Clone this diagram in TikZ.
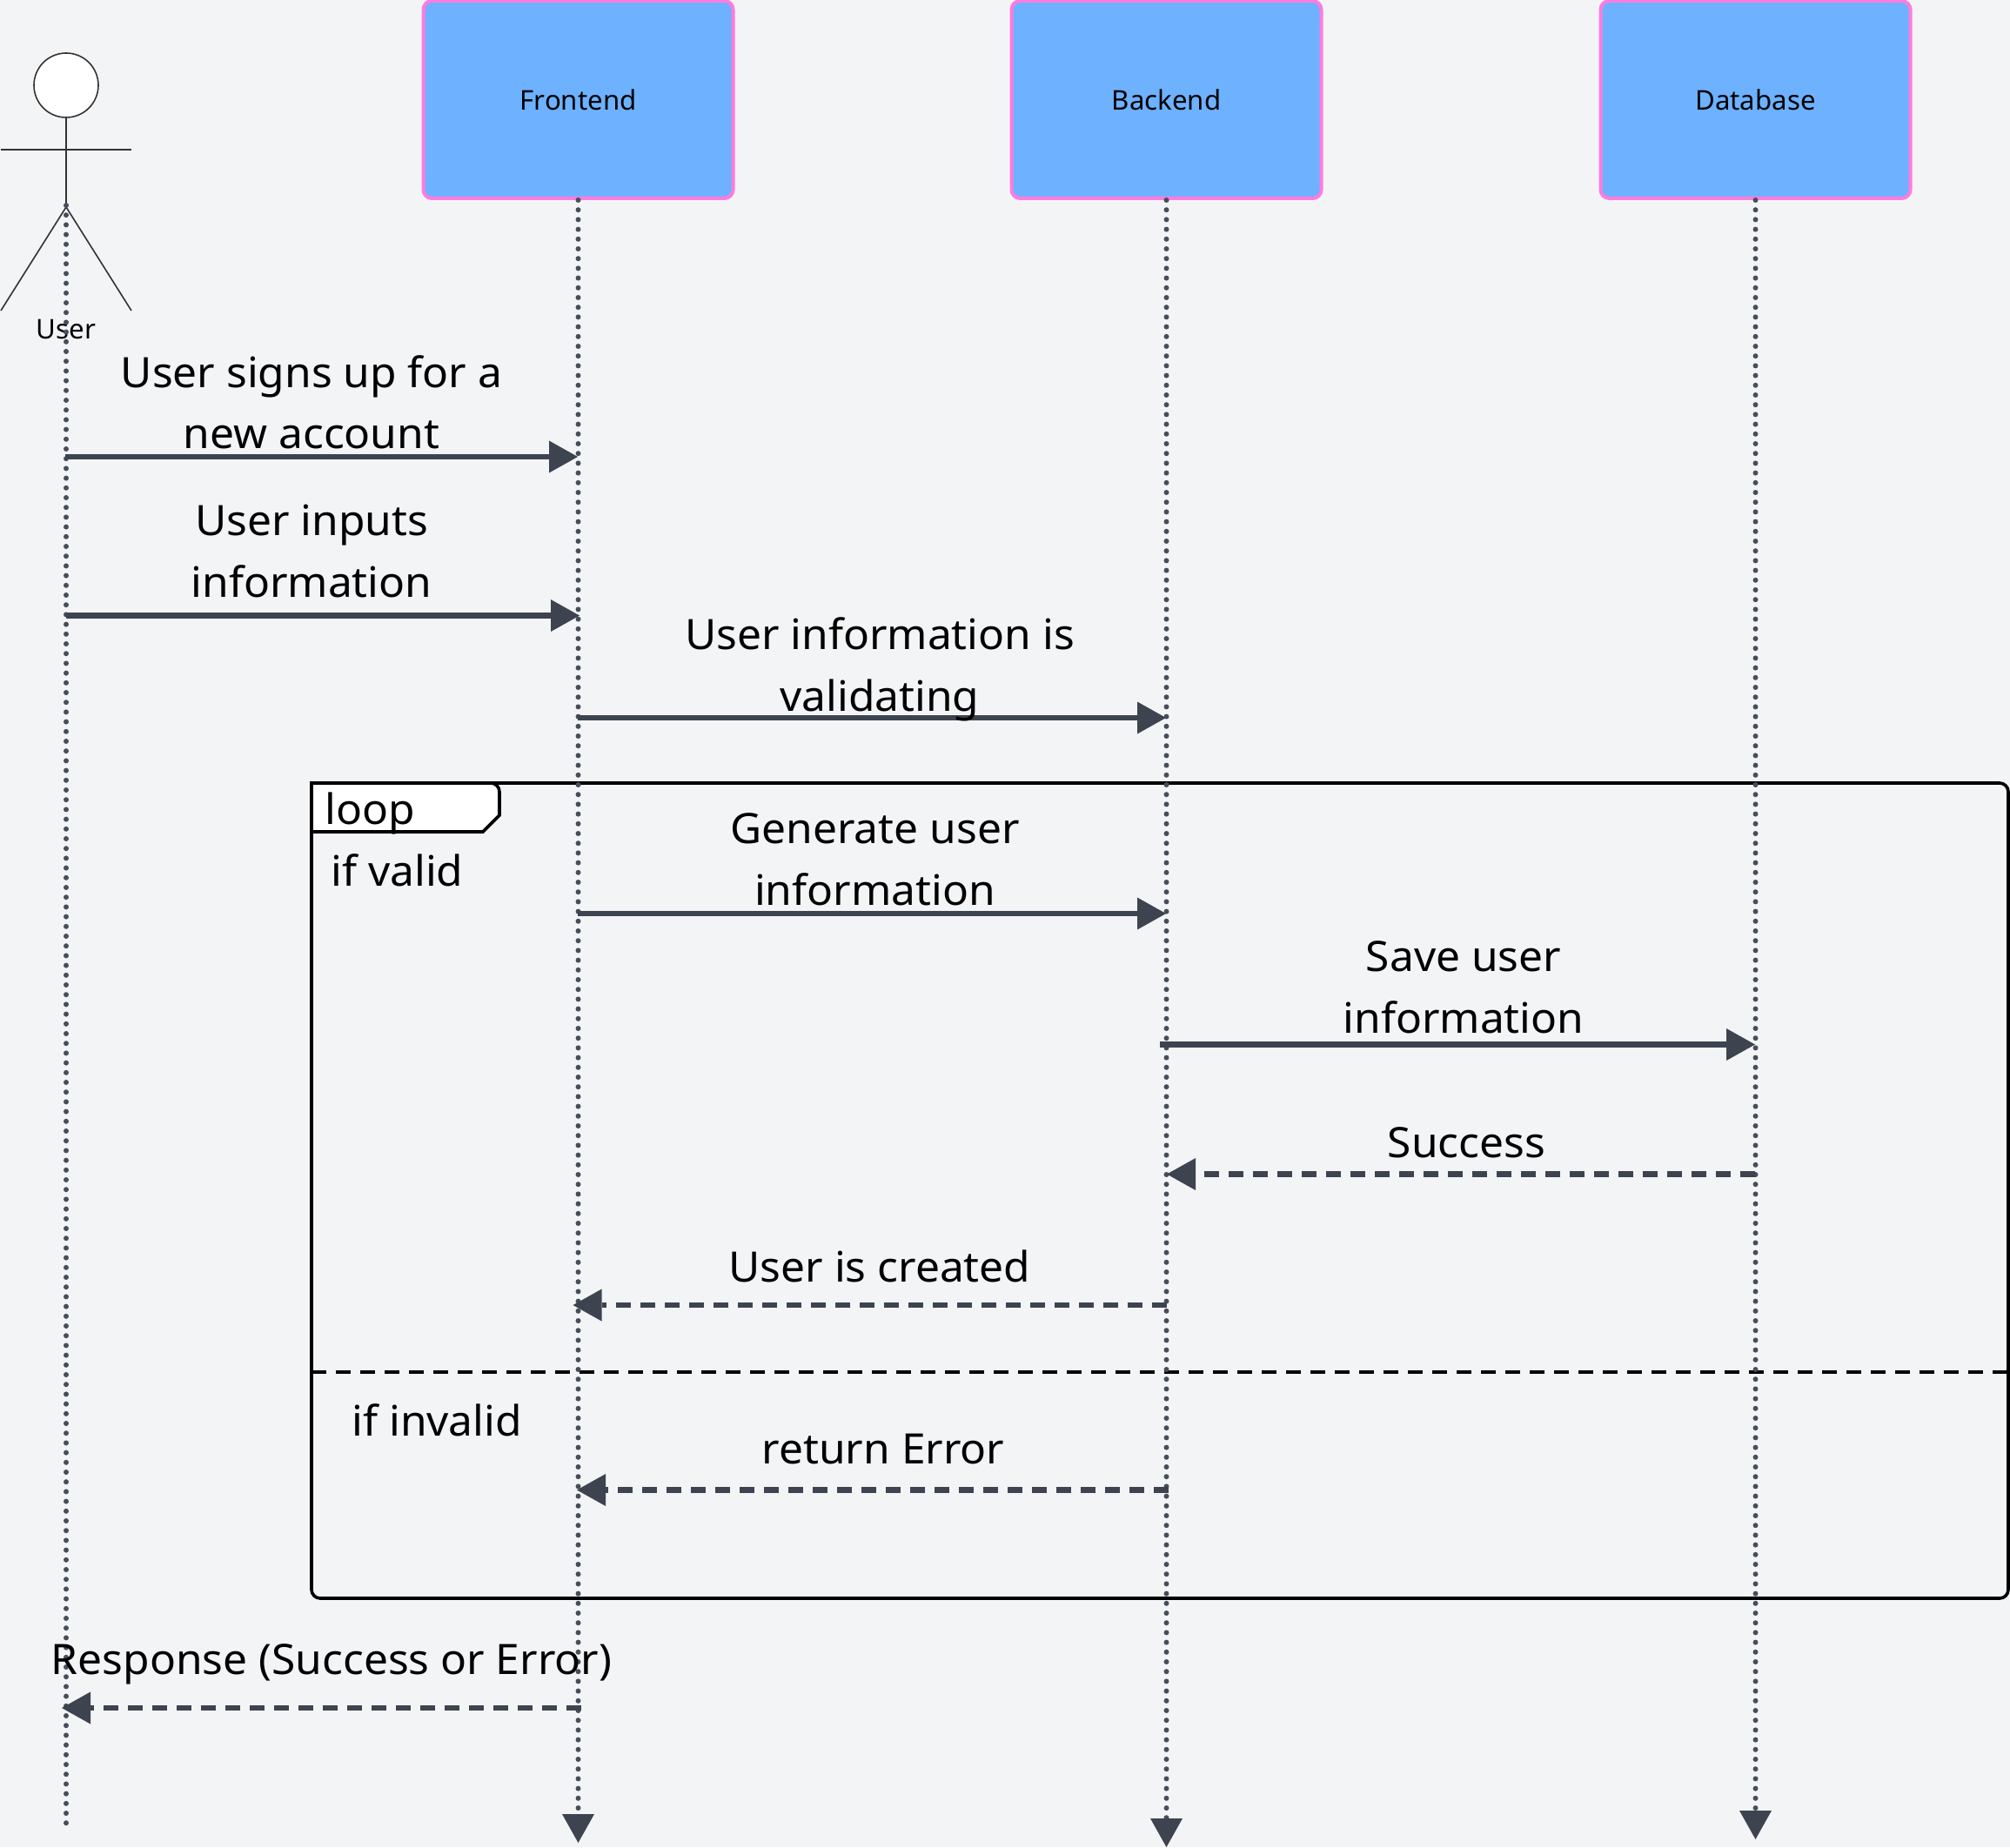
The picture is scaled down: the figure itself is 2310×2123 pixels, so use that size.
\documentclass[tikz,border=0pt]{standalone}
\usepackage{fontspec}
\setmainfont{Noto Sans}
\newfontfamily\msgfont[FakeStretch=1.03]{Noto Sans}
\usetikzlibrary{arrows.meta}
\definecolor{page_bg}{HTML}{F3F4F6}
\definecolor{box_fill}{HTML}{6DB1FF}
\definecolor{box_line}{HTML}{FF7BDF}
\definecolor{msg_col}{HTML}{3D4450}
\definecolor{life_col}{HTML}{474E5B}
\definecolor{actor_col}{HTML}{333333}
\begin{document}
\begin{tikzpicture}[
            x=0.5pt, y=-0.5pt,
            participant/.style={draw=box_line, fill=box_fill, line width=2pt, rounded corners=5pt, minimum width=178pt, minimum height=113.5pt, font=\fontsize{15.6}{18}\selectfont, text=black, inner sep=0pt},
            lifeline/.style={draw=life_col, line width=3pt, line cap=round, dash pattern=on 0pt off 5.6pt},
            life_tip/.style={lifeline, -{Triangle[length=16.5pt, width=18.5pt, fill=msg_col, line width=0pt]}},
            limb/.style={draw=actor_col, line width=0.8pt},
            msg/.style={draw=msg_col, line width=3.2pt, -{Triangle[length=16.5pt, width=18.5pt, fill=msg_col, line width=0pt]}},
            reply/.style={msg, dash pattern=on 8.5pt off 5.5pt},
            frame/.style={draw=black, line width=1.8pt, rounded corners=5pt},
            msg_label/.style={font=\msgfont\fontsize{24.1}{35.5}\selectfont, text=black, anchor=base, align=center, inner sep=0pt},
            left_label/.style={msg_label, anchor=base west}
        ]
        \useasboundingbox (0,0) rectangle (2310,2123);
        \fill[page_bg] (0,0) rectangle (2310,2123);

        % Loop frame
        \coordinate (frame_nw) at (358,900);
        \coordinate (frame_se) at (2308,1837);
        \draw[frame] (frame_nw) rectangle (frame_se);
        \draw[frame, fill=white] (frame_nw) -- (574,900) [sharp corners] -- (574,937) -- (555,956) -- (358,956) -- cycle;
        \coordinate (split_w) at (358,1577);
        \coordinate (split_e) at (2308,1577);
        \draw[draw=black, line width=1.8pt, dash pattern=on 8.5pt off 5.5pt] (split_w) -- (split_e);

        % Participants
        \node[participant] (frontend) at (664.5,114.5) {\raisebox{-1pt}{Frontend}};
        \node[participant] (backend) at (1340.5,114.5) {\raisebox{-1pt}{Backend}};
        \node[participant] (database) at (2017.5,114.5) {\raisebox{-1pt}{Database}};

        % Actor
        \node[circle, draw=actor_col, fill=white, line width=0.8pt, minimum size=37pt, inner sep=0pt] (head) at (76,98) {};
        \coordinate (hip) at (76,238);
        \coordinate (arm_l) at (1,172);
        \coordinate (arm_r) at (151,172);
        \coordinate (foot_l) at (1,357);
        \coordinate (foot_r) at (151,357);
        \draw[limb] (head) -- (hip);
        \draw[limb] (arm_l) -- (arm_r);
        \draw[limb] (foot_l) -- (hip) -- (foot_r);
        \node[font=\fontsize{15.6}{18}\selectfont, text=black, anchor=base, inner sep=0pt] (user) at (76,389.5) {User};

        % Lifelines
        \coordinate (user_top) at (76,236);
        \coordinate (user_end) at (76,2103);
        \coordinate (frontend_end) at (664.5,2118);
        \coordinate (backend_end) at (1340.5,2123);
        \coordinate (database_end) at (2017.5,2114);
        \draw[lifeline] (user_top) -- (user_end);
        \draw[life_tip] (frontend) -- (frontend_end);
        \draw[life_tip] (backend) -- (backend_end);
        \draw[life_tip] (database) -- (database_end);

        % Messages
        \coordinate (u1) at (75,525);
        \coordinate (f1) at (664,525);
        \draw[msg] (u1) -- (f1);
        \coordinate (u2) at (76,707.5);
        \coordinate (f2) at (666,707.5);
        \draw[msg] (u2) -- (f2);
        \coordinate (f3) at (664,825);
        \coordinate (b3) at (1340,825);
        \draw[msg] (f3) -- (b3);
        \coordinate (f4) at (664,1050);
        \coordinate (b4) at (1340,1050);
        \draw[msg] (f4) -- (b4);
        \coordinate (b5) at (1333,1200.5);
        \coordinate (d5) at (2017,1200.5);
        \draw[msg] (b5) -- (d5);
        \coordinate (d6) at (2017,1349.5);
        \coordinate (b6) at (1341,1349.5);
        \draw[reply] (d6) -- (b6);
        \coordinate (b7) at (1341,1500);
        \coordinate (f7) at (658.5,1500);
        \draw[reply] (b7) -- (f7);
        \coordinate (b8) at (1343,1712.5);
        \coordinate (f8) at (663,1712.5);
        \draw[reply] (b8) -- (f8);
        \coordinate (f9) at (668,1963);
        \coordinate (u9) at (71,1963);
        \draw[reply] (f9) -- (u9);

        % Labels
        \node[msg_label] (signup_top) at (358,445) {User signs up for a};
        \node[msg_label] (signup_low) at (358,516) {new account};
        \node[msg_label] (inputs_top) at (358,615.5) {User inputs};
        \node[msg_label] (inputs_low) at (358,686) {information};
        \node[msg_label] (valid_top) at (1011,746.5) {User information is};
        \node[msg_label] (valid_low) at (1011,817.5) {validating};
        \node[left_label] (loop_text) at (373,947) {loop};
        \node[left_label] (if_valid) at (380,1018) {if valid};
        \node[msg_label] (gen_top) at (1005.5,969.5) {Generate user};
        \node[msg_label] (gen_low) at (1005.5,1040.5) {information};
        \node[msg_label] (save_top) at (1682,1116.5) {Save user};
        \node[msg_label] (save_low) at (1682,1187.5) {information};
        \node[msg_label] (success) at (1685.5,1330.5) {Success};
        \node[msg_label] (created) at (1011,1473.5) {User is created};
        \node[left_label] (if_invalid) at (404,1650) {if invalid};
        \node[msg_label] (error) at (1015,1682.5) {return Error};
        \node[msg_label] (response) at (381,1924) {Response (Success or Error)};
    \end{tikzpicture}
\end{document}
